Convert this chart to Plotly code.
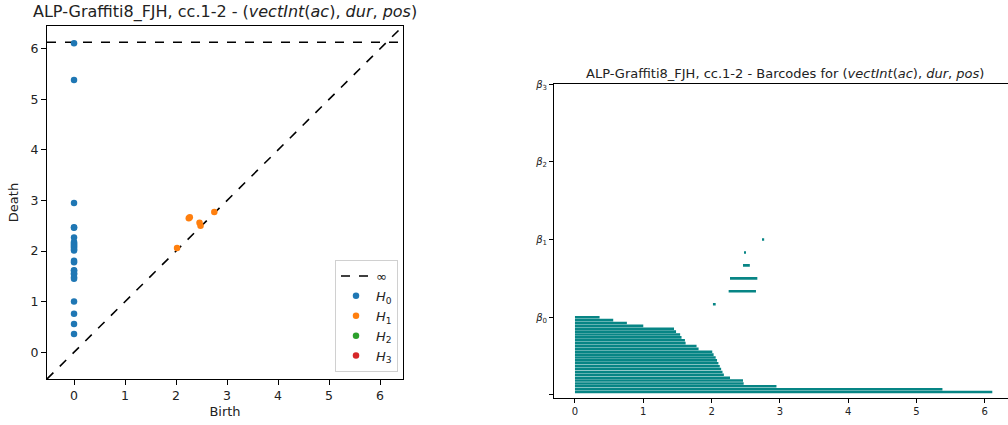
import plotly.graph_objects as go

# ---------------- data ----------------
# H0 intervals (birth, death), in barcode order from bottom (longest) to top
h0_birth = [0.0] * 27
h0_death = [6.11, 5.38, 2.95, 2.47, 2.46, 2.27, 2.18, 2.16, 2.14, 2.12, 2.10,
            2.08, 2.06, 2.03, 2.01, 1.81, 1.78, 1.62, 1.61, 1.56, 1.54, 1.48,
            1.45, 1.00, 0.76, 0.56, 0.36]
# H1 intervals, barcode order from bottom to top
h1_birth = [2.02, 2.25, 2.27, 2.46, 2.48, 2.75]
h1_death = [2.06, 2.65, 2.67, 2.56, 2.50, 2.77]
h2_birth, h2_death = [], []
h3_birth, h3_death = [], []

inf_level = 6.13
diag_range = [-0.53, 6.45]
diagram_ticks = [0, 1, 2, 3, 4, 5, 6]
barcode_xticks = [0, 1, 2, 3, 4, 5, 6]
beta_tick_labels = ["", "<i>β</i><sub>0</sub>", "<i>β</i><sub>1</sub>",
                    "<i>β</i><sub>2</sub>", "<i>β</i><sub>3</sub>"]

title_left = ("ALP-Graffiti8_FJH, cc.1-2 - (<i>vectInt</i>(<i>ac</i>), "
              "<i>dur</i>, <i>pos</i>)")
title_right = ("ALP-Graffiti8_FJH, cc.1-2 - Barcodes for (<i>vectInt</i>(<i>ac</i>), "
               "<i>dur</i>, <i>pos</i>)")

colors = ["#1f77b4", "#ff7f0e", "#2ca02c", "#d62728"]
teal = "#078585"
FONT = "DejaVu Sans"

W, H = 1008, 425
fig = go.Figure()

# ---------------- persistence diagram ----------------
fig.add_trace(go.Scatter(x=diag_range, y=diag_range, mode="lines",
                         line=dict(color="black", dash="dash", width=1.6),
                         showlegend=False, xaxis="x", yaxis="y", hoverinfo="skip"))
fig.add_trace(go.Scatter(x=diag_range, y=[inf_level, inf_level], mode="lines",
                         line=dict(color="black", dash="dash", width=1.6),
                         name="∞", xaxis="x", yaxis="y"))
dims = [(h0_birth, h0_death), (h1_birth, h1_death), (h2_birth, h2_death),
        (h3_birth, h3_death)]
for i, (b, d) in enumerate(dims):
    fig.add_trace(go.Scatter(
        x=b if b else [None], y=d if d else [None], mode="markers",
        marker=dict(color=colors[i], size=6.5, line=dict(width=0)),
        name=f"<i>H</i><sub>{i}</sub>", xaxis="x", yaxis="y"))

# ---------------- barcode ----------------
n0 = len(h0_death)
y0 = [(k + 1) / n0 for k in range(n0)]
n1 = len(h1_death)
y1 = [1 + (k + 1) / n1 for k in range(n1)]
bar_w = 0.033
fig.add_trace(go.Bar(
    x=[d - b for b, d in zip(h0_birth, h0_death)], base=h0_birth, y=y0,
    orientation="h", width=bar_w, marker=dict(color=teal, line=dict(width=0)),
    showlegend=False, xaxis="x2", yaxis="y2"))
fig.add_trace(go.Bar(
    x=[d - b for b, d in zip(h1_birth, h1_death)], base=h1_birth, y=y1,
    orientation="h", width=bar_w, marker=dict(color=teal, line=dict(width=0)),
    showlegend=False, xaxis="x2", yaxis="y2"))

axis_common = dict(showgrid=False, zeroline=False, ticks="outside", ticklen=5,
                   tickcolor="black", linecolor="black", linewidth=1,
                   showline=True, automargin=False,
                   tickfont=dict(family=FONT, size=12.5, color="#222"))
small = {**axis_common, "tickfont": dict(family=FONT, size=10, color="#222"),
         "ticklen": 4}

fig.update_layout(
    width=W, height=H, margin=dict(l=0, r=0, t=0, b=0, autoexpand=False),
    paper_bgcolor="white", plot_bgcolor="white", barmode="overlay",
    font=dict(family=FONT, color="#222"),
    xaxis=dict(domain=[47 / W, 403 / W], range=diag_range, tickvals=diagram_ticks,
               mirror=True, anchor="y",
               title=dict(text="Birth", font=dict(size=13), standoff=4),
               **axis_common),
    yaxis=dict(domain=[1 - 379 / H, 1 - 26 / H], range=diag_range,
               tickvals=diagram_ticks, mirror=True, anchor="x",
               title=dict(text="Death", font=dict(size=13), standoff=8),
               **axis_common),
    xaxis2=dict(domain=[554 / W, 1.0], range=[-0.307, 6.34], tickvals=barcode_xticks,
                mirror=True, anchor="y2", **small),
    yaxis2=dict(domain=[1 - 398.3 / H, 1 - 84 / H], range=[-0.043, 4.0],
                tickvals=[0, 1, 2, 3, 4], ticktext=beta_tick_labels, anchor="x2",
                **small),
    legend=dict(x=398 / W, y=1 - 372 / H, xanchor="right", yanchor="bottom",
                bgcolor="rgba(255,255,255,0.9)", bordercolor="#d0d0d0", borderwidth=1,
                font=dict(family=FONT, size=13, color="#222"), itemwidth=30),
    annotations=[
        dict(text=title_left, x=225 / W, y=1 - 12 / H, xref="paper", yref="paper",
             showarrow=False, font=dict(family=FONT, size=16, color="#222"),
             xanchor="center", yanchor="middle"),
        dict(text=title_right, x=785 / W, y=1 - 73 / H, xref="paper", yref="paper",
             showarrow=False, font=dict(family=FONT, size=13, color="#222"),
             xanchor="center", yanchor="middle"),
    ],
)

fig.write_html("out.html",
               config={"displayModeBar": False},
               post_script="document.body.style.margin='0';"
                           "document.body.style.overflow='hidden';")
